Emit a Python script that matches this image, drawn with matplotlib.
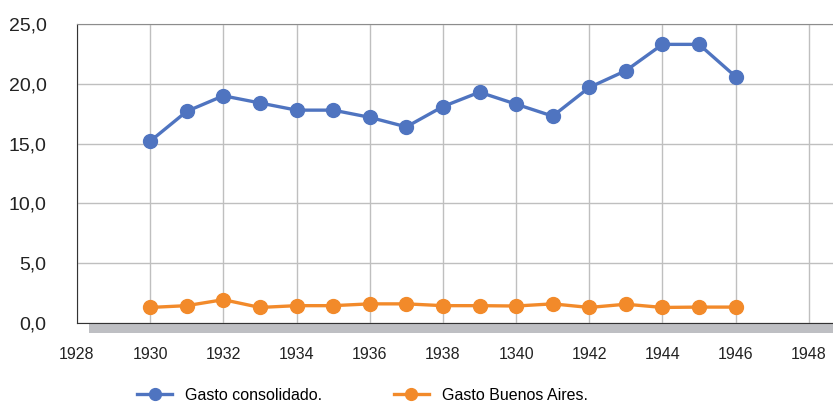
import matplotlib.pyplot as plt
from matplotlib.patches import Rectangle
from matplotlib.ticker import FuncFormatter

plt.rcParams['font.family'] = ['Liberation Sans', 'DejaVu Sans']

years = list(range(1930, 1947))
gasto_consolidado = [15.2, 17.7, 19.0, 18.4, 17.8, 17.8, 17.2, 16.4, 18.1, 19.3,
                     18.3, 17.3, 19.7, 21.1, 23.3, 23.3, 20.6]
gasto_bsas = [1.3, 1.45, 1.95, 1.3, 1.45, 1.45, 1.6, 1.6, 1.45, 1.45,
              1.42, 1.6, 1.3, 1.57, 1.3, 1.33, 1.33]
xticks = [1928, 1930, 1932, 1934, 1936, 1938, 1940, 1942, 1944, 1946, 1948]
xtick_labels = ['1928', '1930', '1932', '1934', '1936', '1938', '1340',
                '1942', '1944', '1946', '1948']

fig = plt.figure(figsize=(8.33, 4.04), dpi=100)
ax = fig.add_axes([0.0924, 0.2005, 0.9076, 0.740])

ax.plot(years, gasto_consolidado, color='#4F74C0', lw=2.4, marker='o', ms=10,
        label='Gasto consolidado.', zorder=3)
ax.plot(years, gasto_bsas, color='#F28A2A', lw=2.4, marker='o', ms=10,
        label='Gasto Buenos Aires.', zorder=3)

ax.set_xlim(1928, 1948.66)
ax.set_ylim(0, 25)
ax.set_xticks(xticks)
ax.set_xticklabels(xtick_labels)
ax.set_yticks([0, 5, 10, 15, 20, 25])
ax.yaxis.set_major_formatter(FuncFormatter(lambda v, p: f'{v:.1f}'.replace('.', ',')))
ax.tick_params(axis='x', length=0, pad=17, labelsize=11.5, colors='#222222')
ax.tick_params(axis='y', length=0, pad=22, labelsize=14, colors='#222222')

ax.grid(True, color='#BFBFBF', lw=1)
ax.set_axisbelow(True)
ax.spines['right'].set_visible(False)
ax.spines['top'].set_color('#8C8C8C')
ax.spines['left'].set_color('#333333')
ax.spines['bottom'].set_color('#333333')
ax.spines['bottom'].set_zorder(4)

# grey floor strip under the x axis
ax.add_patch(Rectangle((1928.33, -0.85), 21, 0.85, facecolor='#BEBFC3',
                       edgecolor='none', clip_on=False, zorder=2))

fig.legend(loc='lower center', bbox_to_anchor=(0.435, -0.032), ncol=2,
           frameon=False, fontsize=11.5, columnspacing=4.5, handlelength=2.2,
           handletextpad=0.8, markerscale=0.85)

fig.savefig('out.png', dpi=100)
